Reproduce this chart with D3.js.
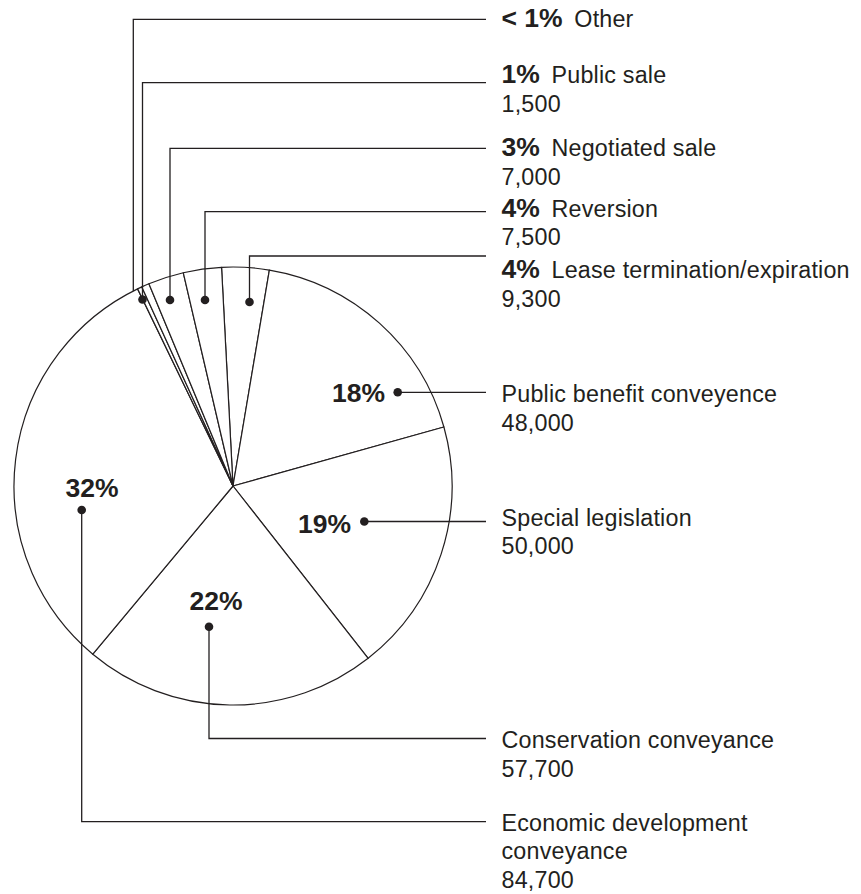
<!DOCTYPE html>
<html>
<head>
<meta charset="utf-8">
<script src="https://cdn.jsdelivr.net/npm/d3@7"></script>
<style>
  html, body { margin: 0; padding: 0; background: #fff; }
  svg { display: block; }
  text { font-family: "Liberation Sans", Arial, Helvetica, sans-serif; fill: #231f20; }
</style>
</head>
<body>
<svg id="chart" width="861" height="894"></svg>
<script>
// ---- data ----
const categories = [
  "Lease termination/expiration",
  "Public benefit conveyence",
  "Special legislation",
  "Conservation conveyance",
  "Economic development conveyance",
  "Other",
  "Public sale",
  "Negotiated sale",
  "Reversion"
];
const values = [9300, 48000, 50000, 57700, 84700, 900, 1500, 7000, 7500];
const percentLabels = ["4%", "18%", "19%", "22%", "32%", "< 1%", "1%", "3%", "4%"];
const valueLabels = ["9,300", "48,000", "50,000", "57,700", "84,700", null, "1,500", "7,000", "7,500"];
const nameLines = [
  ["Lease termination/expiration"],
  ["Public benefit conveyence"],
  ["Special legislation"],
  ["Conservation conveyance"],
  ["Economic development", "conveyance"],
  ["Other"],
  ["Public sale"],
  ["Negotiated sale"],
  ["Reversion"]
];

// ---- layout (annotation placement only) ----
const cx = 233, cy = 486, R = 219;
const lineEndX = 486, textX = 501.5, lineGap = 28.7;
const ink = "#231f20";
const regSize = 23.3, boldSize = 26.5, tracking = 0.2;
// type "top": bold percent + name on the right; "in": percent inside pie
const annot = [
  {type: "top", dot: [249.5, 302],  lineY: 256,   textY: 278.3},
  {type: "in",  dot: [397.7, 392.3], lineY: 392.3, textY: 402.3, pct: [385, 401.7], anchor: "end"},
  {type: "in",  dot: [364.3, 521.5], lineY: 521.5, textY: 525.7, pct: [351, 533.3], anchor: "end"},
  {type: "in",  dot: [209, 626.7],   lineY: 738.5, textY: 748.3, pct: [216, 610],   anchor: "middle"},
  {type: "in",  dot: [81.7, 510],    lineY: 821.7, textY: 830.7, pct: [92, 497.3],  anchor: "middle"},
  {type: "top", dot: null, rimX: 133.3, lineY: 19.3, textY: 27},
  {type: "top", dot: [142.5, 299.5], lineY: 82.7,  textY: 83.3},
  {type: "top", dot: [170, 300],     lineY: 148.3, textY: 156},
  {type: "top", dot: [205, 300],     lineY: 211.7, textY: 216.7}
];

const svg = d3.select("#chart");

// ---- pie ----
const startDeg = -3;
const pie = d3.pie().sort(null).value(d => d)
  .startAngle(startDeg * Math.PI / 180)
  .endAngle((startDeg + 360) * Math.PI / 180);
const arcs = pie(values);
const arc = d3.arc().innerRadius(0).outerRadius(R);

const g = svg.append("g").attr("transform", `translate(${cx},${cy})`);
g.selectAll("path.slice").data(arcs).join("path")
  .attr("class", "slice")
  .attr("d", arc)
  .attr("fill", "#fff")
  .attr("stroke", ink)
  .attr("stroke-width", 1.2)
  .attr("stroke-linejoin", "round");

// ---- leader lines ----
const lines = svg.append("g");
annot.forEach((a, i) => {
  let p;
  if (a.dot) {
    p = d3.path();
    p.moveTo(a.dot[0], a.dot[1]);
    if (Math.abs(a.dot[1] - a.lineY) > 0.5) p.lineTo(a.dot[0], a.lineY);
    p.lineTo(lineEndX, a.lineY);
  } else {
    const dx = a.rimX - cx;
    const rimY = cy - Math.sqrt(R * R - dx * dx);
    p = d3.path();
    p.moveTo(a.rimX, rimY);
    p.lineTo(a.rimX, a.lineY);
    p.lineTo(lineEndX, a.lineY);
  }
  lines.append("path")
    .attr("d", p.toString())
    .attr("fill", "none")
    .attr("stroke", ink)
    .attr("stroke-width", 1.3);
  if (a.dot) {
    lines.append("circle")
      .attr("cx", a.dot[0]).attr("cy", a.dot[1]).attr("r", 4.3)
      .attr("fill", ink);
  }
});

// ---- labels ----
const labels = svg.append("g");
annot.forEach((a, i) => {
  const block = labels.append("text").attr("x", textX).attr("y", a.textY);
  let lineIdx = 0;
  const reg = sel => sel.attr("font-size", regSize).attr("letter-spacing", tracking);
  if (a.type === "top") {
    const first = block.append("tspan").attr("x", textX).attr("y", a.textY);
    first.append("tspan")
      .attr("font-weight", "bold").attr("font-size", boldSize)
      .text(percentLabels[i]);
    first.append("tspan").call(reg).attr("dx", 5)
      .text(" " + nameLines[i][0]);
    lineIdx = 1;
    nameLines[i].slice(1).forEach(t => {
      block.append("tspan").attr("x", textX).attr("y", a.textY + lineGap * lineIdx)
        .call(reg).text(t);
      lineIdx++;
    });
  } else {
    nameLines[i].forEach(t => {
      block.append("tspan").attr("x", textX).attr("y", a.textY + lineGap * lineIdx)
        .call(reg).text(t);
      lineIdx++;
    });
    labels.append("text")
      .attr("x", a.pct[0]).attr("y", a.pct[1])
      .attr("text-anchor", a.anchor)
      .attr("font-weight", "bold").attr("font-size", boldSize)
      .text(percentLabels[i]);
  }
  if (valueLabels[i]) {
    block.append("tspan").attr("x", textX).attr("y", a.textY + lineGap * lineIdx)
      .call(reg).text(valueLabels[i]);
  }
});
</script>
</body>
</html>
